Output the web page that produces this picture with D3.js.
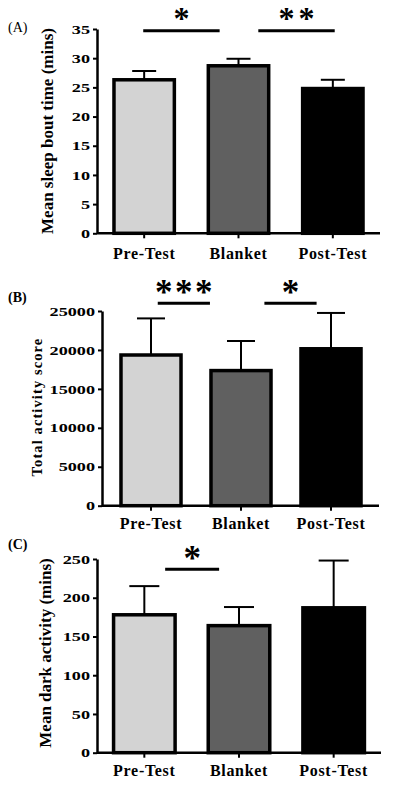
<!DOCTYPE html>
<html><head><meta charset="utf-8">
<script src="https://cdn.jsdelivr.net/npm/d3@7"></script>
<style>body{margin:0;background:#fff} svg{display:block}</style>
</head><body>
<svg id="chart" width="396" height="793"></svg>
<script>
// ---- data ----
const categories = ["Pre-Test", "Blanket", "Post-Test"];
const sleepBoutMeans = [26.3, 28.7, 24.8];
const sleepBoutErrors = [1.5, 1.2, 1.5];
const sleepTicks = [0, 5, 10, 15, 20, 25, 30, 35];
const activityMeans = [19350, 17350, 20150];
const activityErrors = [4700, 3800, 4600];
const activityTicks = [0, 5000, 10000, 15000, 20000, 25000];
const darkMeans = [178, 164, 187];
const darkErrors = [37, 24, 61];
const darkTicks = [0, 50, 100, 150, 200, 250];
const sleepSig = [{from: "Pre-Test", to: "Blanket", label: "*"}, {from: "Blanket", to: "Post-Test", label: "**"}];
const activitySig = [{from: "Pre-Test", to: "Blanket", label: "***"}, {from: "Blanket", to: "Post-Test", label: "*"}];
const darkSig = [{from: "Pre-Test", to: "Blanket", label: "*"}];
const sigLevels = [34.7, 25990, 236.7];
const barColors = ["#d3d3d3", "#606060", "#000000"];

// ---- layout ----
const panels = [
  {tag: "(A)", tagBold: false, tagY: 31.7, title: "Mean sleep bout time (mins)", titleX: 53, titleY: 131, titleSize: 17, titleLs: 0,
   means: sleepBoutMeans, errs: sleepBoutErrors, ticks: sleepTicks, sig: sleepSig, sigLevel: sigLevels[0],
   axisX: 97, axisEnd: 380, yTop: 29, yBottom: 233.3, band: [97, 380], pad: 0.36, xPad: 9.3,
   sigOff: [[-0.01, -0.2], [0.21, 0.02]], starGap: 1.5, starSize: 32, starLs: 4, capW: 24},
  {tag: "(B)", tagBold: true, tagY: 301.5, title: "Total activity score", titleX: 42, titleY: 407, titleSize: 14.5, titleLs: 1.1,
   means: activityMeans, errs: activityErrors, ticks: activityTicks, sig: activitySig, sigLevel: sigLevels[1],
   axisX: 102, axisEnd: 379, yTop: 311, yBottom: 505.7, band: [106, 376], pad: 0.333, xPad: 6.9,
   sigOff: [[0.075, -0.345], [0.26, -0.16]], starGap: -0.7, starSize: 35, starLs: 2.5, capW: 28},
  {tag: "(C)", tagBold: true, tagY: 549, title: "Mean dark activity (mins)", titleX: 50.6, titleY: 653, titleSize: 17, titleLs: 0,
   means: darkMeans, errs: darkErrors, ticks: darkTicks, sig: darkSig, sigLevel: sigLevels[2],
   axisX: 97, axisEnd: 381, yTop: 559, yBottom: 752.7, band: [97, 381], pad: 0.35, xPad: 6.9,
   sigOff: [[0.22, -0.21]], starGap: -0.2, starSize: 35, starLs: 2.5, capW: 30}
];

const serif = "'Liberation Serif', 'Times New Roman', serif";
const svg = d3.select("#chart");

panels.forEach(p => {
  const g = svg.append("g");
  const y = d3.scaleLinear().domain([0, p.ticks[p.ticks.length - 1]]).range([p.yBottom, p.yTop]);
  const x = d3.scaleBand().domain(categories).range(p.band).paddingInner(p.pad).paddingOuter(p.pad / 2);
  const cx = c => x(c) + x.bandwidth() / 2;
  const data = categories.map((c, i) => ({c, m: p.means[i], e: p.errs[i], col: barColors[i]}));

  // error bars (upper only)
  g.selectAll(".err").data(data).join("line")
    .attr("x1", d => cx(d.c)).attr("x2", d => cx(d.c))
    .attr("y1", d => y(d.m)).attr("y2", d => y(d.m + d.e))
    .attr("stroke", "#000").attr("stroke-width", 2);
  g.selectAll(".cap").data(data).join("line")
    .attr("x1", d => cx(d.c) - p.capW / 2).attr("x2", d => cx(d.c) + p.capW / 2)
    .attr("y1", d => y(d.m + d.e)).attr("y2", d => y(d.m + d.e))
    .attr("stroke", "#000").attr("stroke-width", 2);

  // bars
  g.selectAll(".bar").data(data).join("rect")
    .attr("x", d => x(d.c)).attr("y", d => y(d.m))
    .attr("width", x.bandwidth()).attr("height", d => y(0) - y(d.m))
    .attr("fill", d => d.col).attr("stroke", "#000").attr("stroke-width", 3.5);

  // x axis baseline
  g.append("line").attr("x1", p.axisX).attr("x2", p.axisEnd)
    .attr("y1", y(0)).attr("y2", y(0)).attr("stroke", "#000").attr("stroke-width", 2.5);
  const xg = g.append("g").attr("transform", `translate(0,${y(0)})`)
    .call(d3.axisBottom(x).tickSize(5).tickSizeOuter(0).tickPadding(p.xPad));
  xg.select(".domain").remove();
  xg.selectAll(".tick line").attr("stroke-width", 2);
  xg.selectAll(".tick text").attr("font-family", serif).attr("font-weight", "bold")
    .attr("font-size", 16).attr("letter-spacing", 0.7).attr("fill", "#000");

  // y axis
  const yg = g.append("g").attr("transform", `translate(${p.axisX},0)`)
    .call(d3.axisLeft(y).tickValues(p.ticks).tickSize(4).tickSizeOuter(0).tickFormat(d3.format("d")));
  yg.select(".domain").attr("stroke-width", 2.5);
  yg.selectAll(".tick line").attr("stroke-width", 2);
  yg.selectAll(".tick text").attr("x", null)
    .attr("transform", "translate(-7,0) scale(1.4,1)")
    .attr("font-family", serif).attr("font-weight", "bold").attr("font-size", 13).attr("fill", "#000");

  // y title
  g.append("text").attr("transform", `translate(${p.titleX},${p.titleY}) rotate(-90)`)
    .attr("text-anchor", "middle").attr("font-family", serif).attr("font-weight", "bold")
    .attr("font-size", p.titleSize).attr("letter-spacing", p.titleLs).text(p.title);

  // panel tag
  g.append("text").attr("x", 8).attr("y", p.tagY).attr("font-family", serif)
    .attr("font-weight", p.tagBold ? "bold" : "normal").attr("font-size", 14).text(p.tag);

  // significance
  p.sig.forEach((s, k) => {
    const x1 = cx(s.from) + p.sigOff[k][0] * x.step();
    const x2 = cx(s.to) + p.sigOff[k][1] * x.step();
    const ly = y(p.sigLevel);
    g.append("line").attr("x1", x1).attr("x2", x2).attr("y1", ly).attr("y2", ly)
      .attr("stroke", "#000").attr("stroke-width", 3);
    g.append("text").attr("x", (x1 + x2) / 2 + p.starLs / 2).attr("y", ly - p.starGap)
      .attr("text-anchor", "middle").attr("font-family", serif).attr("font-weight", "bold")
      .attr("font-size", p.starSize).attr("letter-spacing", p.starLs).text(s.label);
  });
});
</script>
</body></html>
